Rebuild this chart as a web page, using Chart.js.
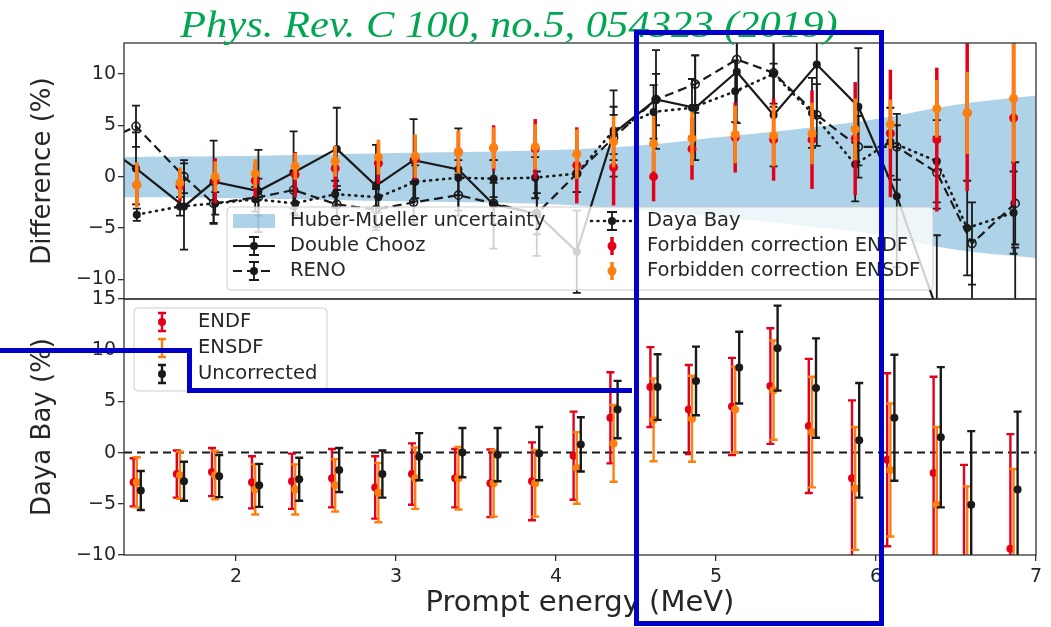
<!DOCTYPE html>
<html lang="en">
  <head>
    <meta charset="UTF-8">
    <title>Prompt energy: reactor spectra vs Huber-Mueller</title>
    <script src="https://cdn.jsdelivr.net/npm/chart.js"></script>
    <style>
      body {
        margin: 0;
        background: #fff
      }

      #wrap {
        position: relative;
        width: 1051px;
        height: 627px;
        overflow: hidden
      }

      .layer {
        position: absolute;
        left: 0;
        top: 0;
        width: 1051px;
        height: 627px
      }

      .ref {
        position: absolute;
        left: 180px;
        top: 5px;
        font: italic 38px "Liberation Serif", serif;
        line-height: 38px;
        color: #00a651;
        white-space: nowrap;
        transform: scaleX(1.12);
        transform-origin: left top
      }

      .hilite {
        position: absolute;
        left: 634px;
        top: 30px;
        width: 250px;
        height: 596px;
        border: 5px solid #0000c8;
        box-sizing: border-box
      }

      svg {
        position: absolute;
        left: 0;
        top: 0
      }
    </style>
  </head>
  <body>
    <div id="wrap">
      <div class="layer"><canvas id="bottom-chart"></canvas></div>
      <div class="layer"><canvas id="top-chart"></canvas></div>
      <div class="ref">Phys. Rev. C 100, no.5, 054323 (2019)</div>
      <div class="hilite"></div>
      <svg width="1051" height="627">
        <polyline points="0,350.5 189.5,350.5 189.5,390.5 632,390.5" fill="none" stroke="#0000c8" stroke-width="5"/>
      </svg>
    </div>
    <script>
      // axis ranges and tick labels
      const xMin = 1.3, xMax = 7;
      const topYMin = -11.9, topYMax = 13;
      const botYMin = -10, botYMax = 15;
      const xTicks = [2, 3, 4, 5, 6, 7];
      const topYTicks = [-10, -5, 0, 5, 10];
      const botYTicks = [-10, -5, 0, 5, 10, 15];

      // Daya Bay bins (MeV)
      const energy = [1.38, 1.65, 1.87, 2.12, 2.37, 2.62, 2.89, 3.12, 3.39, 3.61, 3.87, 4.13,
        4.36, 4.61, 4.85, 5.12, 5.36, 5.6, 5.87, 6.09, 6.38, 6.57, 6.86];
      // Double Chooz / RENO bins, first one sits left of the window
      const reactorEnergy = [1.13, 1.375, 1.675, 1.86, 2.14, 2.36, 2.63, 2.875, 3.11, 3.39, 3.61, 3.88,
        4.13, 4.36, 4.625, 4.87, 5.13, 5.36, 5.63, 5.89, 6.13, 6.38, 6.6, 6.87];

      // top panel: difference (%)
      const dcDiff = [3.5, 0.8, -2.9, -0.5, -1.4, 0.4, 2.7, -0.9, 1.6, 0.7, -2.7, -3.6,
        -7.3, 4.2, 7.5, 6.7, 10.2, 6.0, 10.9, 6.8, -1.9, -12.9, -16.0, -15.0];
      const dcErr = [4.0, 3.5, 4.2, 4.0, 4.0, 4.0, 4.0, 4.0, 4.0, 4.0, 4.3, 4.1,
        4.0, 4.2, 4.8, 5.1, 5.0, 5.0, 5.0, 5.7, 6.9, 7.2, 9.8, 8.1];
      const renoDiff = [3.1, 4.9, 0.0, -2.6, -2.0, -1.3, -2.7, -3.2, -2.5, -1.8, -2.6, -3.6,
        0.3, 3.8, 7.5, 9.0, 11.4, 10.1, 6.0, 2.9, 2.9, 0.4, -6.5, -2.6];
      const renoErr = [2.0, 2.0, 1.6, 2.0, 1.8, 1.8, 1.8, 2.0, 2.0, 2.0, 2.0, 2.0,
        1.8, 2.2, 2.5, 2.8, 3.0, 3.0, 3.0, 3.0, 3.2, 3.5, 4.0, 4.0];
      const dbDiff = [-3.7, -2.9, -2.6, -2.2, -2.6, -1.7, -2.0, -0.5, -0.1, -0.2, -0.1, 0.3,
        4.5, 6.3, 6.7, 8.3, 10.0, 6.2, 1.2, 3.4, 1.5, -5.0, -3.5];
      const dbErr = [0.6, 0.9, 1.1, 1.2, 1.2, 1.3, 1.5, 1.6, 1.7, 1.8, 2.0, 1.8,
        2.3, 2.6, 2.8, 3.0, 3.2, 3.4, 3.6, 3.3, 4.0, 4.6, 4.0];
      const endfTop = [-0.8, -0.9, -0.4, -0.4, 0.2, 0.8, 1.3, 1.7, 2.4, 2.8, 2.7, 1.1,
        0.9, 0.0, 2.7, 3.8, 3.6, 3.6, 3.7, 4.2, 3.6, 6.2, 5.7];
      const endfTopErr = [2.0, 1.5, 2.2, 1.6, 2.2, 2.0, 2.0, 2.0, 2.0, 2.2, 2.9, 3.7,
        3.7, 2.4, 3.0, 3.4, 4.0, 4.8, 5.5, 6.2, 7.0, 7.6, 8.5];
      const ensdfTop = [-0.8, -0.6, 0.0, 0.3, 1.0, 1.5, 1.9, 2.0, 2.4, 2.8, 2.9, 2.2,
        3.4, 3.2, 3.7, 4.1, 4.0, 4.2, 4.6, 5.1, 6.6, 6.2, 7.6];
      const ensdfTopErr = [2.2, 1.5, 1.5, 1.4, 1.3, 1.5, 1.7, 2.1, 2.1, 2.0, 2.2, 2.4,
        2.5, 2.7, 2.6, 2.8, 3.0, 3.0, 3.0, 2.4, 2.8, 4.0, 6.2];

      // Huber-Mueller uncertainty band
      const bandE = [1.3, 2.0, 3.0, 4.0, 4.5, 5.0, 5.5, 6.0, 6.5, 7.0];
      const bandHi = [1.9, 2.0, 2.3, 2.6, 3.0, 3.8, 4.6, 5.6, 7.0, 7.9];
      const bandLo = [-2.0, -2.1, -2.4, -2.7, -3.2, -3.9, -4.7, -5.6, -7.1, -7.9];

      // bottom panel: Daya Bay (%)
      const endfDB = [-2.9, -2.1, -1.9, -2.9, -2.8, -2.5, -3.4, -2.1, -2.5, -3.0, -2.8, -0.3,
        3.4, 6.4, 4.2, 4.5, 6.5, 2.6, -2.5, -0.7, -2.0, -11.5, -9.4];
      const endfDBErr = [2.35, 2.3, 2.35, 2.55, 2.7, 2.85, 3.05, 3.0, 2.85, 3.3, 3.8, 4.3,
        4.45, 3.9, 4.35, 4.75, 5.65, 6.55, 7.6, 8.45, 9.4, 10.3, 11.2];
      const ensdfDB = [-2.9, -2.2, -2.2, -3.6, -3.6, -3.2, -3.9, -2.5, -2.5, -3.0, -3.0, -1.5,
        0.9, 3.2, 3.3, 4.2, 6.1, 2.0, -3.5, -1.7, -5.1, -12.0, -12.5];
      const ensdfDBErr = [2.45, 2.3, 2.35, 2.45, 2.45, 2.55, 2.9, 3.0, 3.05, 3.25, 3.25, 3.5,
        3.75, 4.05, 4.2, 4.2, 4.85, 5.4, 6.0, 6.5, 7.6, 8.7, 10.9];
      const uncorrDB = [-3.7, -2.8, -2.3, -3.2, -2.6, -1.7, -2.1, -0.4, 0.0, -0.2, -0.1, 0.8,
        4.2, 6.4, 7.0, 8.3, 10.2, 6.3, 1.2, 3.4, 1.5, -5.1, -3.6];
      const uncorrDBErr = [1.9, 1.9, 2.05, 2.1, 2.1, 2.15, 2.3, 2.3, 2.4, 2.6, 2.6, 2.65,
        2.8, 3.2, 3.35, 3.5, 4.15, 4.85, 5.6, 6.15, 6.85, 7.2, 7.6];

      const FONT = '"DejaVu Sans", sans-serif';
      const INK = '#262626';
      const FRAME = '#333333';
      const RED = '#e3001b', ORANGE = '#ff7f0e', BLACK = '#1a1a1a';
      const BAND = 'rgba(107,174,214,0.55)';

      function pts(xs, ys, dx = 0) {
        return xs.map((x, i) => ({ x: x + dx, y: ys[i] }));
      }

      // vertical error bars, drawn under each dataset's markers
      const errorBars = {
        id: 'errorBars',
        beforeDatasetDraw(chart, args) {
          const ds = chart.data.datasets[args.index];
          if (!ds.err) return;
          const { ctx, chartArea: a, scales } = chart;
          ctx.save();
          ctx.beginPath();
          ctx.rect(a.left, a.top, a.right - a.left, a.bottom - a.top);
          ctx.clip();
          ctx.strokeStyle = ds.errColor;
          ctx.lineWidth = ds.errWidth;
          ctx.setLineDash([]);
          ds.data.forEach((p, i) => {
            const e = ds.err[i];
            const px = scales.x.getPixelForValue(p.x);
            const lo = scales.y.getPixelForValue(p.y - e);
            const hi = scales.y.getPixelForValue(p.y + e);
            ctx.beginPath();
            ctx.moveTo(px, lo);
            ctx.lineTo(px, hi);
            if (ds.cap) {
              ctx.moveTo(px - ds.cap, lo);
              ctx.lineTo(px + ds.cap, lo);
              ctx.moveTo(px - ds.cap, hi);
              ctx.lineTo(px + ds.cap, hi);
            }
            ctx.stroke();
          });
          ctx.restore();
        }
      };

      const frame = {
        id: 'frame',
        afterDatasetsDraw(chart) {
          const { ctx, chartArea: a } = chart;
          ctx.save();
          ctx.strokeStyle = FRAME;
          ctx.lineWidth = 1.3;
          ctx.strokeRect(a.left, a.top, a.right - a.left, a.bottom - a.top);
          ctx.restore();
        }
      };

      function drawHandle(ctx, h, x0, x1, y) {
        const xc = (x0 + x1) / 2;
        ctx.save();
        if (h.patch) {
          ctx.fillStyle = h.patch;
          ctx.fillRect(x0, y - 7, x1 - x0, 14);
          ctx.restore();
          return;
        }
        if (h.dash) {
          ctx.strokeStyle = h.color;
          ctx.lineWidth = h.lw;
          ctx.setLineDash(h.dash);
          ctx.lineCap = h.capStyle || 'butt';
          ctx.beginPath();
          ctx.moveTo(x0, y);
          ctx.lineTo(x1, y);
          ctx.stroke();
          ctx.setLineDash([]);
          ctx.lineCap = 'butt';
        }
        if (h.bar) {
          ctx.strokeStyle = h.color;
          ctx.lineWidth = h.barWidth;
          ctx.beginPath();
          ctx.moveTo(xc, y - h.bar);
          ctx.lineTo(xc, y + h.bar);
          if (h.cap) {
            ctx.moveTo(xc - h.cap, y - h.bar);
            ctx.lineTo(xc + h.cap, y - h.bar);
            ctx.moveTo(xc - h.cap, y + h.bar);
            ctx.lineTo(xc + h.cap, y + h.bar);
          }
          ctx.stroke();
        }
        if (h.dot) {
          ctx.fillStyle = h.color;
          ctx.beginPath();
          ctx.arc(xc, y, h.dot, 0, Math.PI * 2);
          ctx.fill();
        }
        ctx.restore();
      }

      function drawLegendBox(ctx, L, T, W, H) {
        ctx.beginPath();
        ctx.roundRect(L, T, W, H, 4);
        ctx.fillStyle = 'rgba(255,255,255,0.8)';
        ctx.fill();
        ctx.strokeStyle = 'rgba(200,200,200,0.9)';
        ctx.lineWidth = 1;
        ctx.stroke();
      }

      function drawLabel(ctx, text, x, y) {
        ctx.fillStyle = INK;
        ctx.font = '19.5px ' + FONT;
        ctx.textBaseline = 'middle';
        ctx.textAlign = 'left';
        ctx.fillText(text, x, y);
      }

      const topLegend = {
        id: 'topLegend',
        afterDraw(chart) {
          const ctx = chart.ctx;
          const a = chart.chartArea;
          const L = a.left + 103, T = a.top + 164;
          ctx.save();
          drawLegendBox(ctx, L, T, 706, 83);
          const col1 = [
            { label: 'Huber-Mueller uncertainty', patch: BAND },
            { label: 'Double Chooz', color: BLACK, dash: [1, 0], lw: 2.2, bar: 9, cap: 5, barWidth: 1.8, dot: 4 },
            { label: 'RENO', color: BLACK, dash: [9, 5], lw: 2.2, bar: 9, cap: 5, barWidth: 1.8, dot: 4 }
          ];
          const col2 = [
            { label: 'Daya Bay', color: BLACK, dash: [1, 5.5], capStyle: 'round', lw: 2.6, bar: 9, cap: 5, barWidth: 1.8, dot: 4 },
            { label: 'Forbidden correction ENDF', color: RED, bar: 9, barWidth: 3.5, dot: 4.5 },
            { label: 'Forbidden correction ENSDF', color: ORANGE, bar: 9, barWidth: 3.5, dot: 4.5 }
          ];
          col1.forEach((h, i) => {
            const y = T + 14 + i * 25;
            drawHandle(ctx, h, L + 6, L + 48, y);
            drawLabel(ctx, h.label, L + 63, y);
          });
          col2.forEach((h, i) => {
            const y = T + 14 + i * 25;
            drawHandle(ctx, h, L + 364, L + 406, y);
            drawLabel(ctx, h.label, L + 420, y);
          });
          ctx.restore();
        }
      };

      const bottomLegend = {
        id: 'bottomLegend',
        afterDraw(chart) {
          const ctx = chart.ctx;
          const a = chart.chartArea;
          const L = a.left + 10, T = a.top + 9;
          ctx.save();
          drawLegendBox(ctx, L, T, 193, 83);
          const items = [
            { label: 'ENDF', color: RED, bar: 9, cap: 4, barWidth: 2.4, dot: 4 },
            { label: 'ENSDF', color: ORANGE, bar: 9, cap: 4, barWidth: 2.4 },
            { label: 'Uncorrected', color: BLACK, bar: 9, cap: 4, barWidth: 2.4, dot: 4 }
          ];
          items.forEach((h, i) => {
            const y = T + 14 + i * 26;
            drawHandle(ctx, h, L + 18, L + 38, y);
            drawLabel(ctx, h.label, L + 64, y);
          });
          ctx.restore();
        }
      };

      const minus = v => String(v).replace('-', '\u2212');

      function yAxis(min, max, tickValues, title) {
        return {
          type: 'linear',
          min: min,
          max: max,
          ticks: {
            color: INK,
            padding: 2,
            font: { family: FONT, size: 19 },
            callback: minus
          },
          afterBuildTicks: s => {
            s.ticks = tickValues.map(v => ({ value: v }));
          },
          afterFit: s => {
            s.width = 124;
          },
          grid: { display: true, drawOnChartArea: false, drawTicks: true, tickLength: 6, color: FRAME, lineWidth: 1.3 },
          border: { display: false },
          title: {
            display: true,
            text: title,
            color: INK,
            font: { family: FONT, size: 26 },
            padding: { top: 28, bottom: 0 }
          }
        };
      }

      const topChart = new Chart(document.getElementById('top-chart'), {
        type: 'scatter',
        data: {
          datasets: [{
            label: 'Forbidden correction ENSDF',
            data: pts(energy, ensdfTop),
            showLine: false,
            pointRadius: 4.5,
            pointBorderWidth: 0,
            pointBackgroundColor: ORANGE,
            err: ensdfTopErr, errColor: ORANGE, errWidth: 3.5, cap: 0
          }, {
            label: 'Forbidden correction ENDF',
            data: pts(energy, endfTop),
            showLine: false,
            pointRadius: 4.5,
            pointBorderWidth: 0,
            pointBackgroundColor: RED,
            err: endfTopErr, errColor: RED, errWidth: 3.5, cap: 0
          }, {
            label: 'Daya Bay',
            data: pts(energy, dbDiff),
            showLine: true,
            borderColor: BLACK,
            borderWidth: 2.6,
            borderDash: [1, 5.5],
            borderCapStyle: 'round',
            pointRadius: 4,
            pointBorderWidth: 0,
            pointBackgroundColor: BLACK,
            err: dbErr, errColor: BLACK, errWidth: 1.8, cap: 4
          }, {
            label: 'RENO',
            data: pts(reactorEnergy, renoDiff),
            showLine: true,
            borderColor: BLACK,
            borderWidth: 2.2,
            borderDash: [9, 5],
            pointRadius: 4,
            pointBorderWidth: 1.6,
            pointBorderColor: BLACK,
            pointBackgroundColor: 'rgba(255,255,255,0)',
            err: renoErr, errColor: BLACK, errWidth: 1.8, cap: 4
          }, {
            label: 'Double Chooz',
            data: pts(reactorEnergy, dcDiff),
            showLine: true,
            borderColor: BLACK,
            borderWidth: 2.2,
            pointRadius: 4,
            pointBorderWidth: 0,
            pointBackgroundColor: BLACK,
            err: dcErr, errColor: BLACK, errWidth: 1.8, cap: 4
          }, {
            label: 'band high',
            data: pts(bandE, bandHi),
            showLine: true,
            borderWidth: 0,
            pointRadius: 0,
            tension: 0.4,
            fill: '+1',
            backgroundColor: BAND
          }, {
            label: 'band low',
            data: pts(bandE, bandLo),
            showLine: true,
            borderWidth: 0,
            pointRadius: 0,
            tension: 0.4,
            fill: false
          }]
        },
        options: {
          responsive: true,
          maintainAspectRatio: false,
          animation: false,
          events: [],
          layout: { padding: { left: 0, right: 15, top: 43, bottom: 328 } },
          plugins: { legend: { display: false }, tooltip: { enabled: false } },
          scales: {
            x: { type: 'linear', min: xMin, max: xMax, display: false },
            y: yAxis(topYMin, topYMax, topYTicks, 'Difference (%)')
          }
        },
        plugins: [errorBars, frame, topLegend]
      });

      const bottomChart = new Chart(document.getElementById('bottom-chart'), {
        type: 'scatter',
        data: {
          datasets: [{
            label: 'Uncorrected',
            data: pts(energy, uncorrDB, 0.025),
            showLine: false,
            pointRadius: 4,
            pointBorderWidth: 0,
            pointBackgroundColor: BLACK,
            err: uncorrDBErr, errColor: BLACK, errWidth: 2.4, cap: 4
          }, {
            label: 'ENSDF',
            data: pts(energy, ensdfDB, 0.0),
            showLine: false,
            pointRadius: 4,
            pointBorderWidth: 0,
            pointBackgroundColor: ORANGE,
            err: ensdfDBErr, errColor: ORANGE, errWidth: 2.4, cap: 4
          }, {
            label: 'ENDF',
            data: pts(energy, endfDB, -0.02),
            showLine: false,
            pointRadius: 4,
            pointBorderWidth: 0,
            pointBackgroundColor: RED,
            err: endfDBErr, errColor: RED, errWidth: 2.4, cap: 4
          }, {
            label: 'zero',
            data: [{ x: xMin, y: 0 }, { x: xMax, y: 0 }],
            showLine: true,
            borderColor: BLACK,
            borderWidth: 2,
            borderDash: [8, 5],
            pointRadius: 0
          }]
        },
        options: {
          responsive: true,
          maintainAspectRatio: false,
          animation: false,
          events: [],
          layout: { padding: { left: 0, right: 15, top: 299, bottom: 0 } },
          plugins: { legend: { display: false }, tooltip: { enabled: false } },
          scales: {
            x: {
              type: 'linear',
              min: xMin,
              max: xMax,
              ticks: {
                color: INK,
                padding: 5,
                font: { family: FONT, size: 19 }
              },
              afterBuildTicks: s => {
                s.ticks = xTicks.map(v => ({ value: v }));
              },
              afterFit: s => {
                s.height = 72;
              },
              grid: { display: true, drawOnChartArea: false, drawTicks: true, tickLength: 6, color: FRAME, lineWidth: 1.3 },
              border: { display: false },
              title: {
                display: true,
                text: 'Prompt energy (MeV)',
                color: INK,
                font: { family: FONT, size: 29 },
                padding: { top: 0, bottom: 6 }
              }
            },
            y: yAxis(botYMin, botYMax, botYTicks, 'Daya Bay (%)')
          }
        },
        plugins: [errorBars, frame, bottomLegend]
      });
    </script>
  </body>
</html>
